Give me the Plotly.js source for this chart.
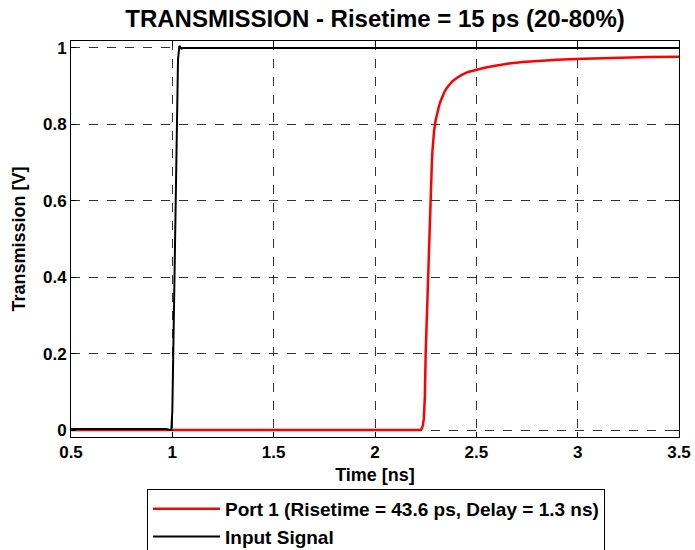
<!DOCTYPE html>
<html>
<head>
<meta charset="utf-8">
<script src="https://cdn.plot.ly/plotly-3.0.1.min.js"></script>
<style>html,body{margin:0;padding:0;background:#fff;}#chart{width:695px;height:550px;}</style>
</head>
<body>
<div id="chart"></div>
<script>
// Port 1 response (red)
const portTime = [0.5, 2.225, 2.231, 2.236, 2.241, 2.246, 2.250, 2.256, 2.261, 2.266, 2.271, 2.274, 2.277, 2.280, 2.283, 2.287, 2.292, 2.299, 2.307, 2.315, 2.323, 2.332, 2.343, 2.355, 2.368, 2.381, 2.405, 2.43, 2.46, 2.497, 2.54, 2.58, 2.62, 2.66, 2.73, 2.8, 2.9, 2.99, 3.1, 3.2, 3.35, 3.5];
const portValues = [0, 0, 0.004, 0.012, 0.03, 0.087, 0.2, 0.31, 0.401, 0.47, 0.528, 0.59, 0.645, 0.69, 0.727, 0.76, 0.785, 0.81, 0.83, 0.846, 0.86, 0.872, 0.885, 0.896, 0.905, 0.912, 0.922, 0.93, 0.937, 0.943, 0.948, 0.952, 0.956, 0.959, 0.963, 0.966, 0.969, 0.971, 0.973, 0.975, 0.976, 0.977];
// Input signal (black)
const inputTime = [0.5, 0.97, 0.99, 0.995, 1.0, 1.01, 1.02, 1.028, 1.035, 1.045, 1.06, 3.5];
const inputValues = [0.003, 0.003, 0.0, 0.0, 0.05, 0.35, 0.7, 0.97, 1.005, 0.998, 1.0, 1.0];
const xTicks = [0.5, 1, 1.5, 2, 2.5, 3, 3.5];
const xTickLabels = ['0.5', '1', '1.5', '2', '2.5', '3', '3.5'];
const yTicks = [0, 0.2, 0.4, 0.6, 0.8, 1];
const yTickLabels = ['0', '0.2', '0.4', '0.6', '0.8', '1'];
const seriesNames = ['Port 1 (Risetime = 43.6 ps, Delay = 1.3 ns)', 'Input Signal'];
const titleText = 'TRANSMISSION - Risetime = 15 ps (20-80%)';

const FONT = 'Arial, "Liberation Sans", sans-serif';
const traces = [
  {x: portTime, y: portValues, type: 'scatter', mode: 'lines', name: seriesNames[0],
   line: {color: '#ff0000', width: 2.5}},
  {x: inputTime, y: inputValues, type: 'scatter', mode: 'lines', name: seriesNames[1],
   line: {color: '#000000', width: 2}}
];
const axisCommon = {
  showline: true, linecolor: '#000', linewidth: 1, mirror: 'ticks',
  ticks: 'inside', ticklen: 5, tickcolor: '#000', tickwidth: 1,
  showgrid: true, gridcolor: '#333', griddash: 'dash', gridwidth: 1,
  zeroline: false, tickfont: {family: FONT, size: 17, color: '#000', weight: 'bold'}
};
const layout = {
  width: 695, height: 550,
  margin: {l: 71, r: 16, t: 41, b: 113},
  paper_bgcolor: '#fff', plot_bgcolor: '#fff',
  title: {text: '<b>' + titleText + '</b>', font: {family: FONT, size: 24, color: '#000'},
          x: 0.5, xref: 'paper', y: 1 - 19/550, yref: 'container', yanchor: 'middle'},
  xaxis: Object.assign({}, axisCommon, {range: [0.5, 3.5], tickvals: xTicks, ticktext: xTickLabels,
          title: {text: '<b>Time [ns]</b>', font: {family: FONT, size: 18, color: '#000'}, standoff: 6}}),
  yaxis: Object.assign({}, axisCommon, {range: [-0.018, 1.018], tickvals: yTicks, ticktext: yTickLabels,
          title: {text: '<b>Transmission [V]</b>', font: {family: FONT, size: 18, color: '#000'}, standoff: 12}}),
  showlegend: true,
  legend: {x: (147 - 71) / 608, xanchor: 'left', y: 1 - 489/550, yref: 'container', yanchor: 'top',
           bgcolor: '#fff', bordercolor: '#000', borderwidth: 1, itemwidth: 67,
           font: {family: FONT, size: 19, color: '#000', weight: 'bold'}, tracegroupgap: 0}
};
Plotly.newPlot('chart', traces, layout, {displayModeBar: false, staticPlot: true});
</script>
</body>
</html>
